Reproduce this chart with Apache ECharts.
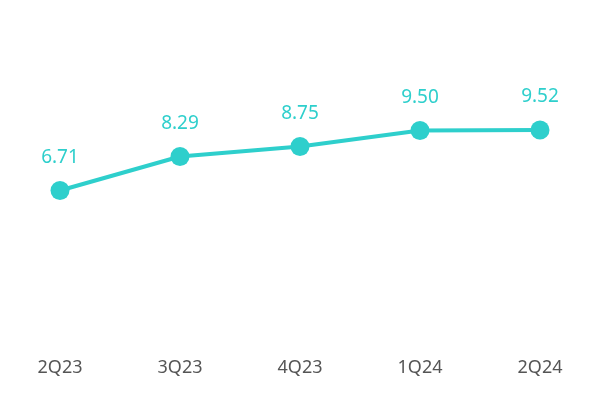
<!DOCTYPE html>
<html><head><meta charset="utf-8">
<script src="https://cdn.jsdelivr.net/npm/echarts@6/dist/echarts.min.js"></script>
<style>html,body{margin:0;background:#fff}#c{width:600px;height:400px}</style>
</head><body><div id="c"></div>
<script>
const categories = ["2Q23","3Q23","4Q23","1Q24","2Q24"];
const values = [6.71, 8.29, 8.75, 9.50, 9.52];
const chart = echarts.init(document.getElementById('c'));
chart.setOption({
  animation:false,
  grid:{left:0,right:0,top:12,bottom:65},
  xAxis:{type:'category',data:categories,axisLine:{show:false},axisTick:{show:false},
    axisLabel:{color:'#555',fontSize:18,margin:24,fontFamily:'Noto Sans'}},
  yAxis:{type:'value',min:0,max:15,show:false},
  series:[{type:'line',data:values,color:'#2ecfcc',lineStyle:{width:4},symbol:'circle',symbolSize:19,
    itemStyle:{color:'#2ecfcc'},
    label:{show:true,position:'top',distance:14,color:'#2ecfcc',fontSize:19,fontFamily:'Noto Sans',
      formatter:p=>p.value.toFixed(2)}}]
});
</script></body></html>
